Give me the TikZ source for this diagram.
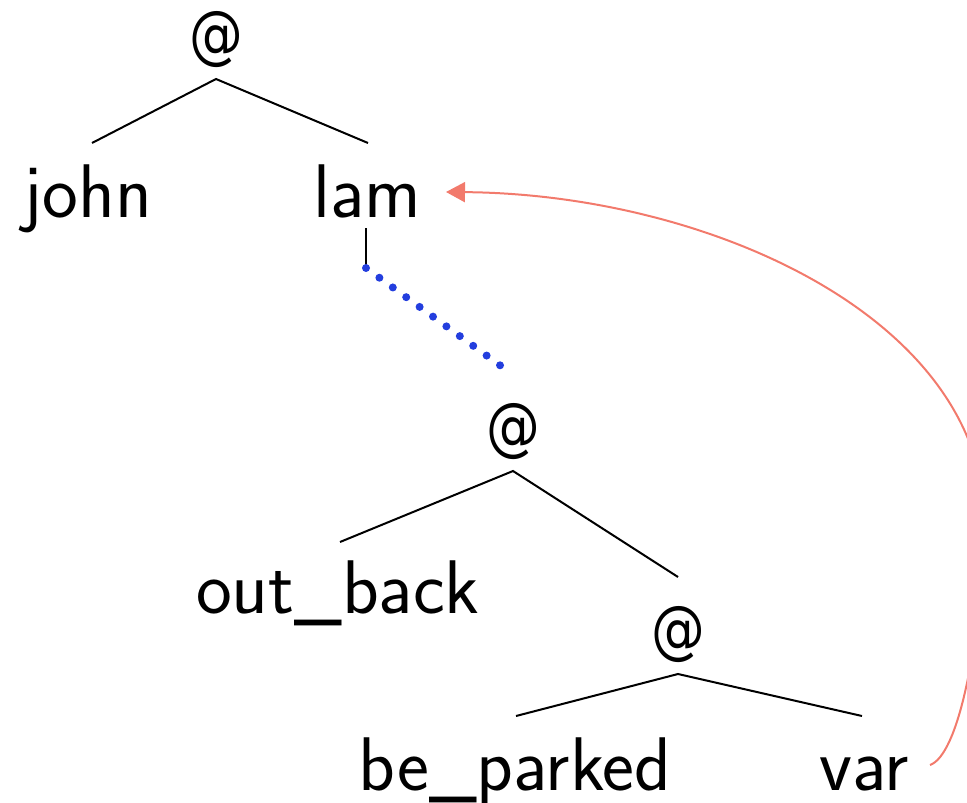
\documentclass[tikz,border=0pt]{standalone}
\usepackage{fontspec}
\usetikzlibrary{calc,arrows.meta}
\newfontfamily\atglyphfont{DejaVu Sans}
\definecolor{linkred}{RGB}{242,122,108}
\definecolor{dotblue}{RGB}{35,62,222}
\begin{document}
\begin{tikzpicture}[x=0.5pt,y=-0.5pt,
  lbl/.style={font=\sffamily\fontsize{38}{42}\selectfont, inner sep=0pt, anchor=base},
  applbl/.style={font=\atglyphfont\fontsize{32}{36}\selectfont, inner sep=0pt, anchor=base, xscale=0.84},
  branch/.style={line width=1pt, black},
  dotlink/.style={dotblue, line width=4pt, line cap=round, dash pattern=on 0pt off 8.28pt},
  bindarrow/.style={linkred, line width=1pt, -{Triangle[length=9.5pt,width=10pt]}}]
\useasboundingbox (0,0) rectangle (967,802);

% tree labels, placed on their baselines
\node[applbl] (at1) at (216,57) {@};
\node[lbl] (john) at (88,217) {john};
\node[lbl] (lam) at (367,217) {lam};
\node[applbl] (at2) at (513,448) {@};
\node[lbl] (outback) at (338,613) {out\_back};
\node[applbl] (at3) at (678,651) {@};
\node[lbl] (park) at (515,790) {be\_parked};
\node[lbl] (var) at (864,790) {var};

% top application
\draw[branch] ($(john.base)+(4,-74)$) -- ($(at1.base)+(0,22)$) -- ($(lam.base)+(1,-74)$);

% lambda body: short stem, then dotted link
\coordinate (stemtop) at ($(lam.base)+(-1,11)$);
\coordinate (stemfoot) at ($(lam.base)+(-1,51)$);
\coordinate (dotend) at ($(at2.base)+(-12,-82)$);
\draw[branch] (stemtop) -- (stemfoot);
\draw[dotlink] (stemfoot) -- (dotend);

% second application
\draw[branch] ($(outback.base)+(2,-71)$) -- ($(at2.base)+(0,23)$) -- ($(at3.base)+(0,-74)$);

% third application
\draw[branch] ($(park.base)+(1,-74)$) -- ($(at3.base)+(0,23)$) -- ($(var.base)+(-2,-74)$);

% binding arrow from the variable back to its lambda
\draw[bindarrow] ($(var.base)+(66,-25)$)
  .. controls (958,755) and (979,650) .. (985,530)
  .. controls (990,320) and (710,194) .. ($(lam.base)+(79,-25)$);
\end{tikzpicture}
\end{document}
